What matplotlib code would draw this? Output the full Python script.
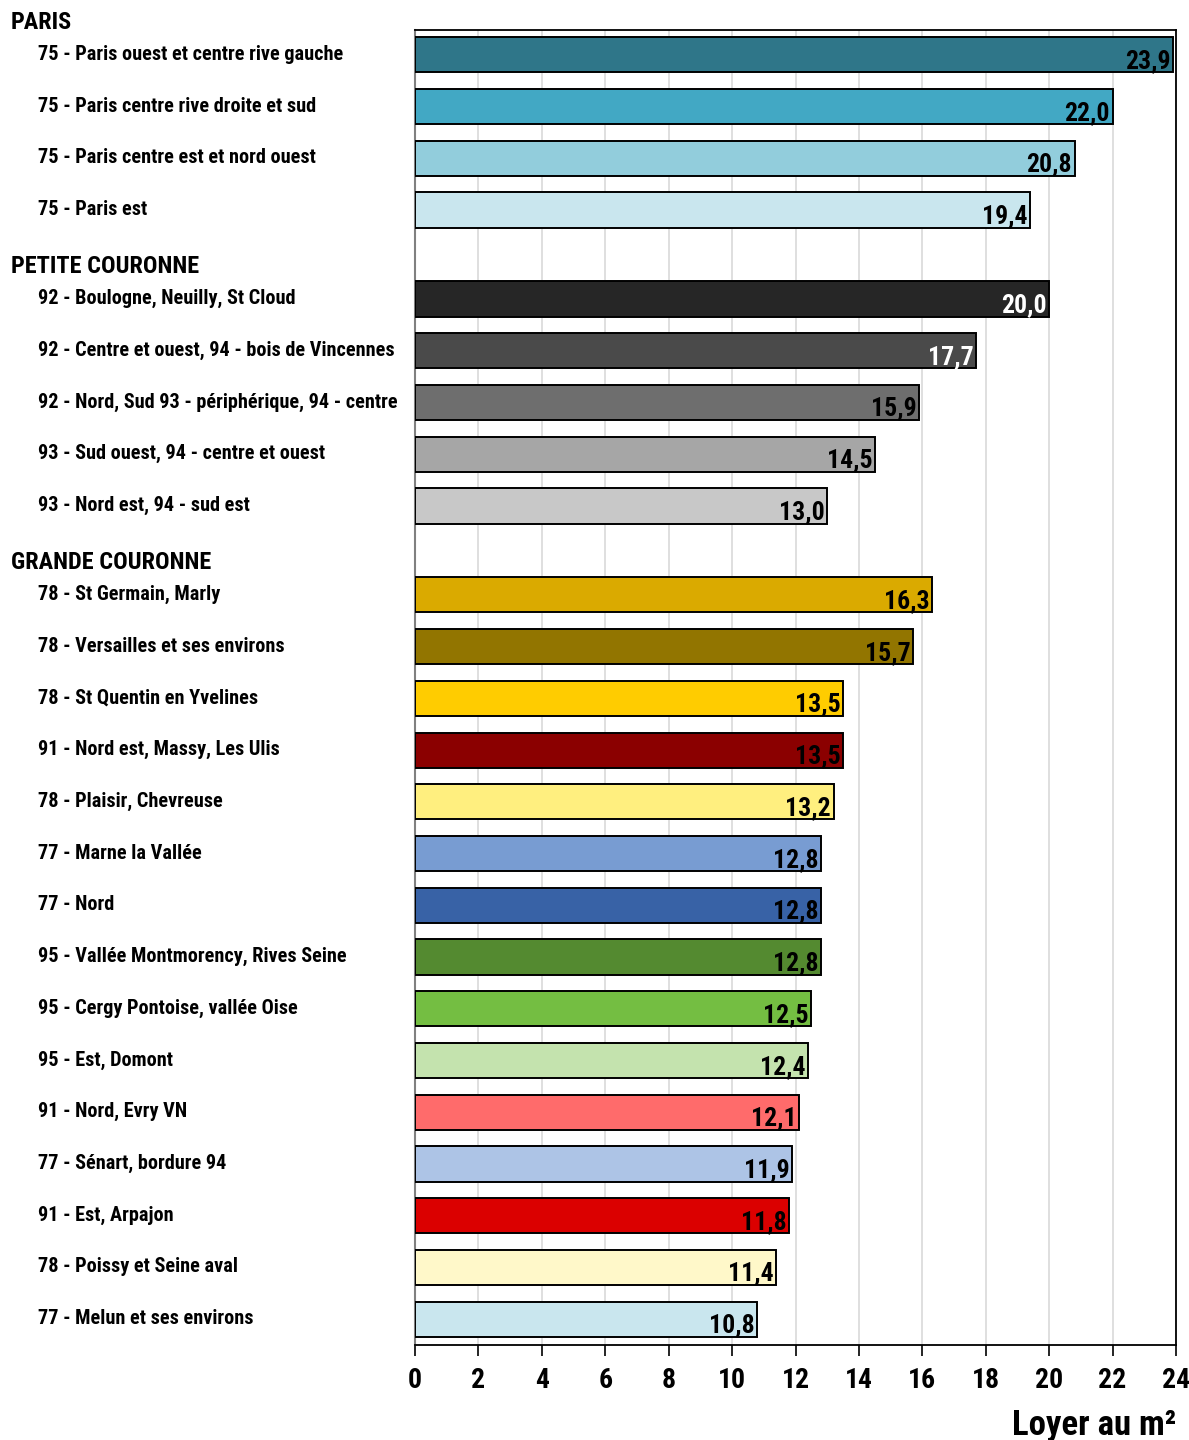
import matplotlib
matplotlib.use("Agg")
import matplotlib.pyplot as plt
import matplotlib.transforms as mtransforms
from matplotlib import font_manager as fm

names = {f.name for f in fm.fontManager.ttflist}
FONT = "Roboto Condensed" if "Roboto Condensed" in names else "DejaVu Sans"
plt.rcParams['font.family'] = [FONT, 'DejaVu Sans']
plt.rcParams['font.weight'] = 'bold'

groups = ["PARIS", "PETITE COURONNE", "GRANDE COURONNE"]

paris_labels = [
    "75 - Paris ouest et centre rive gauche",
    "75 - Paris centre rive droite et sud",
    "75 - Paris centre est et nord ouest",
    "75 - Paris est",
]
paris_values = [23.9, 22.0, 20.8, 19.4]
paris_colors = ["#2F7689", "#42A8C4", "#92CDDC", "#C9E6EE"]

petite_labels = [
    "92 - Boulogne, Neuilly, St Cloud",
    "92 - Centre et ouest, 94 - bois de Vincennes",
    "92 - Nord, Sud 93 - périphérique, 94 - centre",
    "93 - Sud ouest, 94 - centre et ouest",
    "93 - Nord est, 94 - sud est",
]
petite_values = [20.0, 17.7, 15.9, 14.5, 13.0]
petite_colors = ["#262626", "#4A4A4A", "#6E6E6E", "#A6A6A6", "#C8C8C8"]

grande_labels = [
    "78 - St Germain, Marly",
    "78 - Versailles et ses environs",
    "78 - St Quentin en Yvelines",
    "91 - Nord est, Massy, Les Ulis",
    "78 - Plaisir, Chevreuse",
    "77 - Marne la Vallée",
    "77 - Nord",
    "95 - Vallée Montmorency, Rives Seine",
    "95 - Cergy Pontoise, vallée Oise",
    "95 - Est, Domont",
    "91 - Nord, Evry VN",
    "77 - Sénart, bordure 94",
    "91 - Est, Arpajon",
    "78 - Poissy et Seine aval",
    "77 - Melun et ses environs",
]
grande_values = [16.3, 15.7, 13.5, 13.5, 13.2, 12.8, 12.8, 12.8, 12.5, 12.4,
                 12.1, 11.9, 11.8, 11.4, 10.8]
grande_colors = ["#DAAA00", "#927500", "#FFCC00", "#8B0000", "#FFEF7F",
                 "#789CD2", "#3862A6", "#548A30", "#74BE42", "#C4E3AE",
                 "#FF6B6B", "#ADC4E6", "#DB0000", "#FFF8C9", "#C9E6EE"]

x_ticks = list(range(0, 25, 2))
xlabel = "Loyer au m²"

all_groups = [(paris_labels, paris_values, paris_colors),
              (petite_labels, petite_values, petite_colors),
              (grande_labels, grande_values, grande_colors)]

fig = plt.figure(figsize=(11.89, 14.40), dpi=100)
W, H = 1189, 1440
ax = fig.add_axes([415 / W, 1 - 1345 / H, (1176 - 415) / W, (1345 - 30) / H])
lab_tr = mtransforms.blended_transform_factory(fig.transFigure, ax.transData)

GAP = 1.72
pos = 0.0
for gi, (labs, vals, cols) in enumerate(all_groups):
    if gi > 0:
        pos += GAP - 1
    ax.text(11 / W, pos - 0.62, groups[gi], transform=lab_tr,
            ha="left", va="center", fontsize=17.5, fontweight="bold")
    for lab, v, c in zip(labs, vals, cols):
        ax.barh(pos, v, height=0.68, color=c, edgecolor="black", linewidth=1.4, zorder=3)
        tc = "white" if c in ("#262626", "#4A4A4A") else "black"
        ax.text(v - 0.08, pos + 0.12, f"{v:.1f}".replace(".", ","), ha="right", va="center",
                fontsize=18.5, fontweight="bold", color=tc, zorder=4)
        ax.text(38 / W, pos - 0.01, lab, transform=lab_tr,
                ha="left", va="center", fontsize=14.6, fontweight="bold")
        pos += 1

ax.set_ylim(pos - 1 + 0.5, -0.48)
ax.set_xlim(0, 24)
ax.set_xticks(x_ticks)
ax.set_xticklabels([str(t) for t in x_ticks], fontsize=20, fontweight="bold")
ax.set_yticks([])
ax.xaxis.grid(True, color="#D9D9D9", linewidth=1.2, zorder=0)
ax.tick_params(axis="x", direction="out", length=8, width=1.2, pad=8)
for s in ["top", "right", "bottom"]:
    ax.spines[s].set_color("black")
    ax.spines[s].set_linewidth(1.3)
ax.spines["left"].set_color("#808080")
ax.spines["left"].set_linewidth(1.5)

fig.text(1176 / W, 1 - 1425 / H, xlabel, ha="right", va="center", fontsize=25, fontweight="bold")

fig.savefig("out.png", dpi=100)
